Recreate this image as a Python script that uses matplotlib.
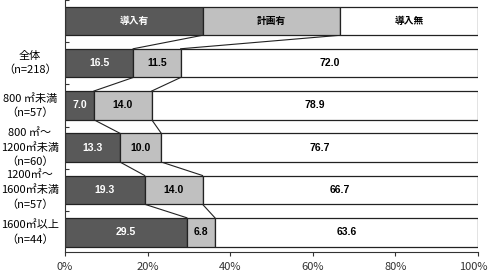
import matplotlib.pyplot as plt
import matplotlib.transforms as mtransforms
import numpy as np

plt.rcParams['font.family'] = ['Noto Sans CJK JP', 'DejaVu Sans']

# data
categories = ['全体\n（n=218）', '800 ㎡未満\n（n=57）', '800 ㎡～\n1200㎡未満\n（n=60）',
              '1200㎡～\n1600㎡未満\n（n=57）', '1600㎡以上\n（n=44）']
series_names = ['導入有', '計画有', '導入無']
yes_vals = [16.5, 7.0, 13.3, 19.3, 29.5]
plan_vals = [11.5, 14.0, 10.0, 14.0, 6.8]
no_vals = [72.0, 78.9, 76.7, 66.7, 63.6]
x_ticks = [0, 20, 40, 60, 80, 100]

colors = ['#595959', '#c0c0c0', '#ffffff']
text_colors = ['white', 'black', 'black']

fig = plt.figure(figsize=(4.89, 2.78), dpi=100)
ax = fig.add_axes([65 / 489, 26 / 278, 413 / 489, 1 - 26 / 278 + 0.01])

# header row (legend-like bar) at position 0, data rows from 1
header = [100 / 3, 100 / 3, 100 / 3]
rows = [header] + [list(r) for r in zip(yes_vals, plan_vals, no_vals)]
h = 0.68
for i, r in enumerate(rows):
    left = 0
    for j, v in enumerate(r):
        ax.barh(i, v, left=left, height=h, color=colors[j], edgecolor='#222222', linewidth=0.9, zorder=2)
        if i == 0:
            ax.text(left + v / 2, i, series_names[j], ha='center', va='center', fontsize=7,
                    fontweight='bold', color=text_colors[j], zorder=3)
        else:
            ax.text(left + v / 2, i, f'{v:.1f}', ha='center', va='center', fontsize=7.5,
                    fontweight='bold', color=text_colors[j], zorder=3, family='Liberation Sans')
        left += v

# series connector lines
for i in range(len(rows) - 1):
    c0 = np.cumsum(rows[i])[:2]
    c1 = np.cumsum(rows[i + 1])[:2]
    for a, b in zip(c0, c1):
        ax.plot([a, b], [i + h / 2, i + 1 - h / 2], color='#222222', lw=0.8, zorder=1)

ax.set_xlim(0, 100)
ax.set_ylim(5.47, -0.56)
ax.set_xticks(x_ticks)
ax.set_xticklabels([f'{t}%' for t in x_ticks], fontsize=8)
ax.tick_params(axis='x', direction='out', length=3, width=0.8, colors='#333333', pad=4)
ax.set_yticks(np.arange(-0.5, 5.5, 1.0))
ax.set_yticklabels([])
ax.tick_params(axis='y', direction='in', length=3, width=0.8, colors='#333333')

# keep the 100% label inside the picture
last = ax.get_xticklabels()[-1]
last.set_horizontalalignment('right')
last.set_transform(last.get_transform() + mtransforms.ScaledTranslation(10 / 100, 0, fig.dpi_scale_trans))

for s in ['top', 'right']:
    ax.spines[s].set_visible(False)
for s in ['left', 'bottom']:
    ax.spines[s].set_color('#333333')
    ax.spines[s].set_linewidth(0.8)

trans = mtransforms.blended_transform_factory(fig.transFigure, ax.transData)
for i, c in enumerate(categories):
    ax.text(30 / 489, i + 1, c, transform=trans, ha='center', va='center', fontsize=8,
            linespacing=1.45, clip_on=False)

fig.savefig('out.png', dpi=100)
